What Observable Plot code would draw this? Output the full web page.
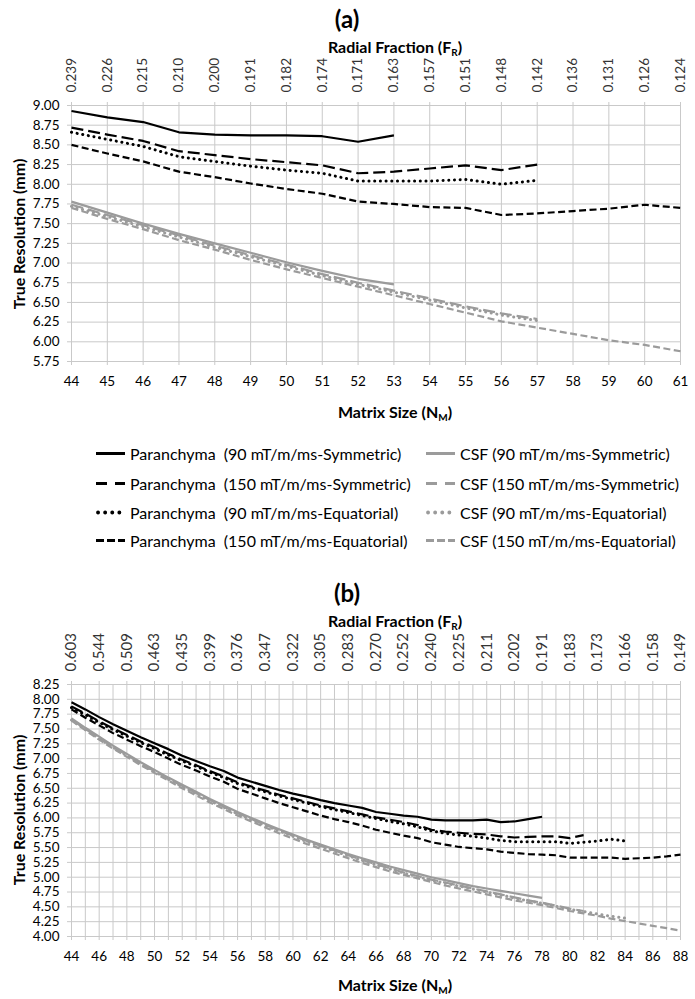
<!DOCTYPE html>
<html>
<head>
<meta charset="utf-8">
<script src="https://cdn.jsdelivr.net/npm/d3@7"></script>
<script src="https://cdn.jsdelivr.net/npm/@observablehq/plot@0.6"></script>
<style>
  html, body { margin: 0; padding: 0; background: #fff; }
  #wrap { position: relative; width: 695px; height: 999px; background: #fff; font-family: Lato, "Liberation Sans", sans-serif; color: #000; }
  .abs { position: absolute; white-space: nowrap; }
  .ptitle { font-weight: bold; font-size: 24px; transform: translate(-50%, -50%); }
  .atitle { font-weight: bold; font-size: 16px; transform: translate(-50%, -50%); }
  .ytitle { font-weight: bold; font-size: 16px; transform: translate(-50%, -50%) rotate(-90deg); }
  .leg { font-size: 16px; transform: translateY(-50%); display: flex; align-items: center; }
  .leg svg { margin-right: 4px; }
  sub { font-size: 10px; vertical-align: -3px; line-height: 0; }
  .plot { position: absolute; left: 0; }
</style>
</head>
<body>
<div id="wrap"></div>
<script>
// ---------- Panel (a) data ----------
const nA = [44,45,46,47,48,49,50,51,52,53,54,55,56,57,58,59,60,61];
const frA = ["0.239","0.226","0.215","0.210","0.200","0.191","0.182","0.174","0.171","0.163","0.157","0.151","0.148","0.142","0.136","0.131","0.126","0.124"];
const yTicksA = [5.75,6.00,6.25,6.50,6.75,7.00,7.25,7.50,7.75,8.00,8.25,8.50,8.75,9.00];
const a_P90Sym  = [8.93,8.85,8.79,8.66,8.63,8.62,8.62,8.61,8.54,8.62];
const a_P150Sym = [8.72,8.63,8.55,8.42,8.37,8.32,8.28,8.24,8.14,8.16,8.20,8.24,8.18,8.25];
const a_P90Eq   = [8.66,8.57,8.48,8.35,8.29,8.23,8.18,8.14,8.04,8.04,8.04,8.06,8.00,8.05];
const a_P150Eq  = [8.50,8.39,8.29,8.16,8.09,8.01,7.94,7.88,7.78,7.75,7.71,7.70,7.61,7.63,7.66,7.69,7.74,7.70];
const a_C90Sym  = [7.78,7.64,7.50,7.37,7.25,7.13,7.01,6.90,6.80,6.73];
const a_C150Sym = [7.74,7.61,7.48,7.35,7.22,7.10,6.98,6.86,6.75,6.65,6.55,6.45,6.36,6.29];
const a_C90Eq   = [7.72,7.59,7.46,7.33,7.20,7.08,6.96,6.84,6.73,6.63,6.53,6.43,6.34,6.27];
const a_C150Eq  = [7.70,7.56,7.43,7.29,7.17,7.04,6.92,6.81,6.70,6.59,6.48,6.37,6.26,6.18,6.10,6.02,5.96,5.88];

// ---------- Panel (b) data ----------
const nB = [44,45,46,47,48,49,50,51,52,53,54,55,56,57,58,59,60,61,62,63,64,65,66,67,68,69,70,71,72,73,74,75,76,77,78,79,80,81,82,83,84,85,86,87,88];
const nLabB = [44,46,48,50,52,54,56,58,60,62,64,66,68,70,72,74,76,78,80,82,84,86,88];
const frB = ["0.603","0.544","0.509","0.463","0.435","0.399","0.376","0.347","0.322","0.305","0.283","0.270","0.252","0.240","0.225","0.211","0.202","0.191","0.183","0.173","0.166","0.158","0.149"];
const yTicksB = [4.00,4.25,4.50,4.75,5.00,5.25,5.50,5.75,6.00,6.25,6.50,6.75,7.00,7.25,7.50,7.75,8.00,8.25];
const b_P90Sym  = [7.95,7.83,7.70,7.58,7.47,7.36,7.26,7.16,7.05,6.96,6.87,6.79,6.68,6.61,6.54,6.47,6.41,6.36,6.30,6.25,6.21,6.17,6.10,6.07,6.04,6.02,5.97,5.96,5.96,5.96,5.97,5.93,5.94,5.98,6.02];
const b_P150Sym = [7.88,7.76,7.63,7.51,7.40,7.29,7.19,7.08,6.98,6.89,6.79,6.70,6.60,6.53,6.46,6.39,6.33,6.27,6.21,6.16,6.11,6.06,6.01,5.97,5.93,5.88,5.80,5.77,5.75,5.73,5.72,5.69,5.67,5.68,5.69,5.69,5.66,5.71];
const b_P90Eq   = [7.86,7.74,7.61,7.49,7.38,7.27,7.17,7.06,6.96,6.87,6.77,6.68,6.58,6.51,6.44,6.37,6.31,6.25,6.19,6.14,6.09,6.04,5.99,5.94,5.90,5.85,5.78,5.74,5.71,5.69,5.66,5.62,5.60,5.60,5.60,5.60,5.57,5.59,5.61,5.64,5.61];
const b_P150Eq  = [7.83,7.69,7.56,7.43,7.32,7.21,7.11,7.00,6.89,6.80,6.70,6.61,6.49,6.41,6.33,6.25,6.18,6.11,6.04,5.98,5.93,5.87,5.80,5.75,5.70,5.66,5.59,5.55,5.51,5.49,5.47,5.43,5.41,5.39,5.38,5.37,5.33,5.33,5.33,5.33,5.31,5.32,5.33,5.35,5.38];
const b_C90Sym  = [7.68,7.52,7.37,7.22,7.08,6.94,6.81,6.68,6.56,6.44,6.32,6.21,6.10,6.00,5.90,5.81,5.72,5.63,5.55,5.47,5.39,5.32,5.25,5.18,5.12,5.06,5.00,4.95,4.90,4.85,4.81,4.77,4.73,4.69,4.65];
const b_C150Sym = [7.66,7.50,7.35,7.20,7.06,6.92,6.79,6.66,6.54,6.42,6.30,6.19,6.08,5.98,5.88,5.79,5.70,5.61,5.53,5.45,5.37,5.29,5.22,5.15,5.08,5.02,4.96,4.91,4.86,4.81,4.76,4.71,4.66,4.61,4.57,4.52,4.47,4.43];
const b_C90Eq   = [7.65,7.49,7.34,7.19,7.05,6.91,6.78,6.65,6.53,6.41,6.29,6.18,6.07,5.97,5.87,5.78,5.69,5.60,5.52,5.44,5.36,5.28,5.21,5.14,5.07,5.01,4.95,4.90,4.85,4.80,4.75,4.70,4.65,4.60,4.56,4.51,4.46,4.42,4.38,4.34,4.31];
const b_C150Eq  = [7.64,7.48,7.32,7.17,7.03,6.89,6.76,6.63,6.50,6.38,6.26,6.15,6.04,5.94,5.84,5.74,5.65,5.56,5.48,5.40,5.32,5.24,5.17,5.10,5.04,4.98,4.92,4.86,4.81,4.76,4.71,4.66,4.61,4.57,4.53,4.48,4.43,4.39,4.35,4.30,4.26,4.22,4.18,4.14,4.10];

const legendLabels = [
  ["Paranchyma  (90 mT/m/ms-Symmetric)", "CSF (90 mT/m/ms-Symmetric)"],
  ["Paranchyma  (150 mT/m/ms-Symmetric)", "CSF (150 mT/m/ms-Symmetric)"],
  ["Paranchyma  (90 mT/m/ms-Equatorial)", "CSF (90 mT/m/ms-Equatorial)"],
  ["Paranchyma  (150 mT/m/ms-Equatorial)", "CSF (150 mT/m/ms-Equatorial)"]
];

// ---------- styles ----------
const BLACK = "#000000", GRAY = "#9b9b9b", GRID = "#c9c9c9";
const styles = [
  {dash: null, width: 2.2, cap: "butt", legDash: null},            // 90 Symmetric
  {dash: "12,5", width: 2.2, cap: "butt", legDash: "11,8"},        // 150 Symmetric
  {dash: "0.1,5.6", width: 3, cap: "round", legDash: "0.1,7"},     // 90 Equatorial
  {dash: "7,3.5", width: 2.2, cap: "butt", legDash: "8,3"}         // 150 Equatorial
];

function rows(ns, vals) { return vals.map((v, i) => ({n: ns[i], v})); }
function lineMarks(ns, series) {
  return series.map(([vals, color, k]) => Plot.line(rows(ns, vals), {
    x: "n", y: "v", stroke: color, strokeWidth: styles[k].width,
    strokeDasharray: styles[k].dash || undefined, strokeLinecap: styles[k].cap, strokeLinejoin: "round"
  }));
}

const wrap = document.getElementById("wrap");
function addText(cls, html, x, y) {
  const d = document.createElement("div");
  d.className = "abs " + cls; d.innerHTML = html;
  d.style.left = x + "px"; d.style.top = y + "px";
  wrap.appendChild(d);
}

function makePanel(cfg) {
  const p = Plot.plot({
    width: 695, height: cfg.height,
    marginLeft: 71, marginRight: 15, marginTop: cfg.mt, marginBottom: cfg.mb,
    style: {fontFamily: "Lato, 'Liberation Sans', sans-serif", fontSize: "13px", color: "#000", background: "transparent"},
    x: {domain: cfg.xd},
    y: {domain: cfg.yd},
    marks: [
      Plot.gridY(cfg.yTicks, {stroke: GRID, strokeOpacity: 1}),
      Plot.gridX(cfg.ns, {stroke: GRID, strokeOpacity: 1}),
      Plot.axisY(cfg.yTicks, {tickFormat: d => d.toFixed(2), tickSize: 4, tickPadding: 8, stroke: GRID, fill: "#000", fontSize: 13.5, label: null}),
      Plot.axisX(cfg.ns, {anchor: "bottom", tickSize: 4, tickPadding: 0, stroke: GRID, text: null, label: null}),
      Plot.axisX(cfg.xLab, {anchor: "bottom", tickSize: 0, tickPadding: 15, fill: "#000", fontSize: 13.5, tickFormat: d => String(d), label: null}),
      Plot.axisX(cfg.topTicks, {anchor: "top", tickSize: 4, tickPadding: 9, stroke: GRID, fill: "#333", fontSize: cfg.topFont,
        tickRotate: -90, tickFormat: d => cfg.topLabels[cfg.topTicks.indexOf(d)], label: null}),
      ...lineMarks(cfg.ns, cfg.series)
    ]
  });
  p.classList.add("plot");
  p.style.top = cfg.top + "px";
  wrap.appendChild(p);
}

// Panel (a)
addText("ptitle", "(a)", 347, 18);
addText("atitle", "Radial Fraction (F<sub>R</sub>)", 395, 46);
makePanel({
  top: 56, height: 345, mt: 49, mb: 40,
  xd: [44, 61], yd: [5.75, 9.00], yTicks: yTicksA, ns: nA, xLab: nA,
  topTicks: nA, topLabels: frA, topFont: 13.5,
  series: [
    [a_C90Sym, GRAY, 0], [a_C150Sym, GRAY, 1], [a_C90Eq, GRAY, 2], [a_C150Eq, GRAY, 3],
    [a_P90Sym, BLACK, 0], [a_P150Sym, BLACK, 1], [a_P90Eq, BLACK, 2], [a_P150Eq, BLACK, 3]
  ]
});
addText("atitle", "Matrix Size (N<sub>M</sub>)", 395, 411);
addText("ytitle", "True Resolution (mm)", 18, 234);

// Legend
const legY = [453, 483, 512, 540];
const legX = [[95, 130], [425, 460]];
legendLabels.forEach((row, r) => {
  row.forEach((lab, c) => {
    const color = c === 0 ? BLACK : GRAY;
    const st = styles[r];
    const d = document.createElement("div");
    d.className = "abs leg";
    d.style.left = legX[c][0] + "px"; d.style.top = legY[r] + "px";
    const sw = d3.create("svg").attr("width", 31).attr("height", 10);
    sw.append("line").attr("x1", st.cap === "round" ? 3 : 1).attr("x2", 30).attr("y1", 5).attr("y2", 5)
      .attr("stroke", color).attr("stroke-width", st.width + 0.8)
      .attr("stroke-dasharray", st.legDash).attr("stroke-linecap", st.cap);
    d.appendChild(sw.node());
    const t = document.createElement("span"); t.textContent = lab; t.style.whiteSpace = "pre";
    d.appendChild(t);
    wrap.appendChild(d);
  });
});

// Panel (b)
addText("ptitle", "(b)", 347, 592);
addText("atitle", "Radial Fraction (F<sub>R</sub>)", 395, 620);
makePanel({
  top: 625, height: 347, mt: 59, mb: 36,
  xd: [44, 88], yd: [4.00, 8.25], yTicks: yTicksB, ns: nB, xLab: nLabB,
  topTicks: nLabB, topLabels: frB, topFont: 15,
  series: [
    [b_C90Sym, GRAY, 0], [b_C150Sym, GRAY, 1], [b_C90Eq, GRAY, 2], [b_C150Eq, GRAY, 3],
    [b_P90Sym, BLACK, 0], [b_P150Sym, BLACK, 1], [b_P90Eq, BLACK, 2], [b_P150Eq, BLACK, 3]
  ]
});
addText("atitle", "Matrix Size (N<sub>M</sub>)", 395, 984);
addText("ytitle", "True Resolution (mm)", 18, 810);
</script>
</body>
</html>
